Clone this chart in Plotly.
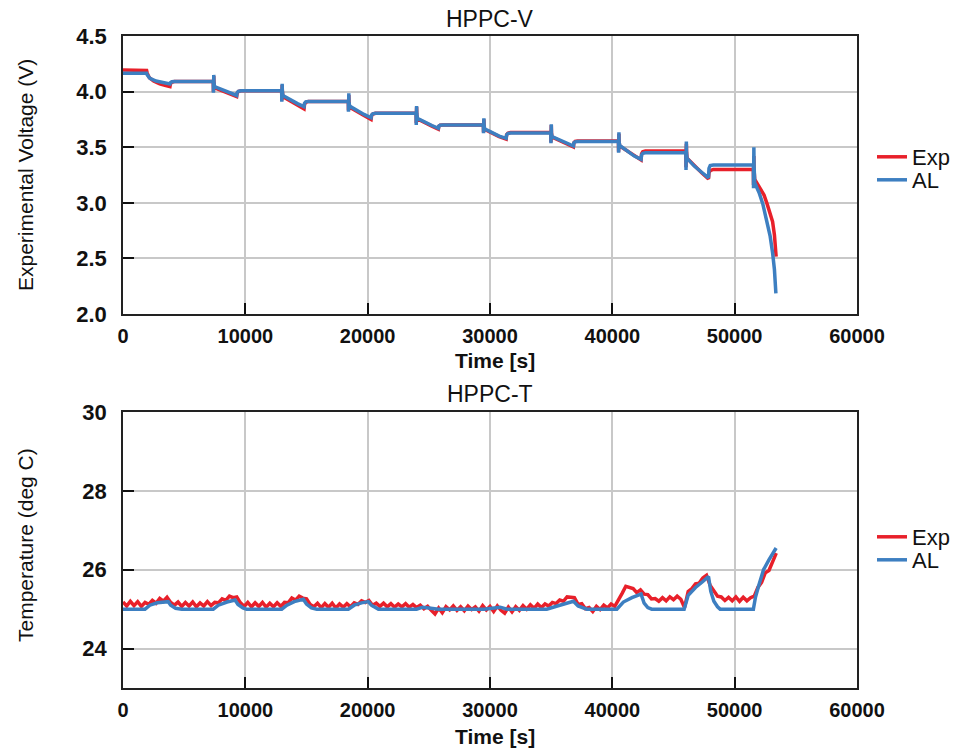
import plotly.graph_objects as go

# ---------------- Voltage data (HPPC-V) ----------------
exp_v_t = [0, 1930, 1980, 2150, 2500, 3000, 3500, 3840, 3880, 3980, 4200,
           7380, 7392, 7405, 7420, 7435, 7480, 8000, 8700, 9290, 9330, 9430, 9650,
           12970, 12982, 12995, 13010, 13025, 13070, 13600, 14200, 14800, 14840, 14940, 15150,
           18420, 18432, 18445, 18460, 18475, 18520, 19100, 19700, 20280, 20320, 20420, 20630,
           23960, 23972, 23985, 24000, 24015, 24060, 24650, 25250, 25780, 25820, 25920, 26130,
           29460, 29472, 29485, 29500, 29515, 29560, 30150, 30750, 31320, 31360, 31460, 31670,
           34970, 34982, 34995, 35010, 35025, 35070, 35650, 36250, 36820, 36860, 36960, 37170,
           40500, 40512, 40525, 40540, 40555, 40600, 41200, 41800, 42350, 42390, 42490, 42700,
           46010, 46022, 46035, 46050, 46065, 46110, 46700, 47300, 47860, 47900, 48000, 48250,
           51530, 51542, 51555, 51570, 51585, 51640, 52000, 52400, 52650, 52900, 53100, 53250, 53390]
exp_v = [4.195, 4.19, 4.165, 4.125, 4.095, 4.07, 4.055, 4.045, 4.07, 4.084, 4.09,
         4.09, 4.00, 4.03, 4.14, 4.09, 4.035, 4.01, 3.98, 3.955, 3.985, 4.0, 4.008,
         4.008, 3.92, 3.95, 4.06, 4.005, 3.955, 3.92, 3.88, 3.845, 3.885, 3.903, 3.912,
         3.912, 3.83, 3.855, 3.97, 3.91, 3.86, 3.82, 3.785, 3.75, 3.782, 3.798, 3.805,
         3.805, 3.715, 3.74, 3.86, 3.80, 3.755, 3.72, 3.69, 3.662, 3.688, 3.697, 3.70,
         3.70, 3.635, 3.655, 3.75, 3.70, 3.66, 3.625, 3.595, 3.572, 3.612, 3.625, 3.632,
         3.632, 3.545, 3.57, 3.70, 3.63, 3.59, 3.56, 3.53, 3.502, 3.54, 3.552, 3.556,
         3.556, 3.46, 3.49, 3.62, 3.555, 3.51, 3.465, 3.42, 3.385, 3.44, 3.46, 3.466,
         3.466, 3.32, 3.36, 3.53, 3.465, 3.40, 3.33, 3.27, 3.215, 3.27, 3.29, 3.30,
         3.30, 3.16, 3.20, 3.42, 3.30, 3.21, 3.15, 3.07, 2.99, 2.91, 2.83, 2.71, 2.515]

al_v_t = [0, 1930, 1980, 2200, 2700, 3300, 3840, 3880, 4000, 4200,
          7380, 7392, 7405, 7420, 7435, 7480, 8200, 8800, 9290, 9330, 9430, 9650,
          12970, 12982, 12995, 13010, 13025, 13070, 13700, 14300, 14800, 14840, 14940, 15150,
          18420, 18432, 18445, 18460, 18475, 18520, 19100, 19700, 20280, 20320, 20420, 20630,
          23960, 23972, 23985, 24000, 24015, 24060, 24650, 25250, 25780, 25820, 25920, 26130,
          29460, 29472, 29485, 29500, 29515, 29560, 30150, 30750, 31320, 31360, 31460, 31670,
          34970, 34982, 34995, 35010, 35025, 35070, 35650, 36250, 36820, 36860, 36960, 37170,
          40500, 40512, 40525, 40540, 40555, 40600, 41200, 41800, 42350, 42390, 42490, 42700,
          46010, 46022, 46035, 46050, 46065, 46110, 46700, 47300, 47860, 47900, 48000, 48250,
          51530, 51542, 51555, 51570, 51585, 51640, 52000, 52300, 52600, 52900, 53100, 53250, 53370]
al_v = [4.165, 4.165, 4.15, 4.12, 4.095, 4.08, 4.068, 4.08, 4.088, 4.09,
        4.09, 3.99, 4.03, 4.15, 4.09, 4.045, 4.01, 3.985, 3.965, 3.99, 4.003, 4.008,
        4.008, 3.91, 3.95, 4.07, 4.008, 3.965, 3.925, 3.89, 3.865, 3.895, 3.908, 3.912,
        3.912, 3.82, 3.855, 3.985, 3.912, 3.87, 3.83, 3.795, 3.765, 3.79, 3.80, 3.805,
        3.805, 3.70, 3.74, 3.87, 3.805, 3.76, 3.725, 3.695, 3.67, 3.69, 3.698, 3.70,
        3.70, 3.625, 3.655, 3.76, 3.70, 3.665, 3.63, 3.60, 3.58, 3.612, 3.622, 3.628,
        3.628, 3.535, 3.57, 3.706, 3.628, 3.595, 3.565, 3.535, 3.51, 3.54, 3.548, 3.552,
        3.552, 3.45, 3.49, 3.635, 3.552, 3.515, 3.465, 3.42, 3.39, 3.43, 3.445, 3.45,
        3.45, 3.295, 3.34, 3.55, 3.45, 3.40, 3.33, 3.275, 3.225, 3.31, 3.335, 3.34,
        3.34, 3.13, 3.20, 3.50, 3.34, 3.18, 3.09, 2.99, 2.86, 2.70, 2.55, 2.40, 2.186]

# ---------------- Temperature data (HPPC-T) ----------------
exp_T_t = [0, 300, 600, 900, 1200, 1500, 1800, 2100, 2400, 2700,
           3000, 3300, 3600, 3900, 4200, 4500, 4800, 5100, 5400, 5700,
           6000, 6300, 6600, 6900, 7200, 7500, 7800, 8100, 8400, 8700,
           9000, 9300, 9600, 9900, 10200, 10500, 10800, 11100, 11400, 11700,
           12000, 12300, 12600, 12900, 13200, 13500, 13800, 14100, 14400, 14700,
           15000, 15300, 15600, 15900, 16200, 16500, 16800, 17100, 17400, 17700,
           18000, 18300, 18600, 18900, 19200, 19500, 19800, 20100, 20400, 20700,
           21000, 21300, 21600, 21900, 22200, 22500, 22800, 23100, 23400, 23700,
           24000, 24300, 24600, 24900, 25200, 25500, 25800, 26100, 26400, 26700,
           27000, 27300, 27600, 27900, 28200, 28500, 28800, 29100, 29400, 29700,
           30000, 30300, 30600, 30900, 31200, 31500, 31800, 32100, 32400, 32700,
           33000, 33300, 33600, 33900, 34200, 34500, 34800, 35100, 35400, 35700,
           36000, 36300, 36600, 36900, 37200, 37500, 37800, 38100, 38400, 38700,
           39000, 39300, 39600, 39900, 40200, 40500, 40800, 41100, 41400, 41700,
           42000, 42300, 42600, 42900, 43200, 43500, 43800, 44100, 44400, 44700,
           45000, 45300, 45600, 45900, 46200, 46500, 46800, 47100, 47400, 47700,
           48000, 48300, 48600, 48900, 49200, 49500, 49800, 50100, 50400, 50700,
           51000, 51300, 51600, 51900, 52200, 52500, 52800, 53100, 53400]
exp_T = [25.18, 25.08, 25.20, 25.09, 25.19, 25.07, 25.17, 25.12, 25.22, 25.15,
         25.27, 25.20, 25.30, 25.17, 25.10, 25.18, 25.07, 25.17, 25.08, 25.18,
         25.06, 25.16, 25.08, 25.19, 25.09, 25.17, 25.16, 25.26, 25.22, 25.33,
         25.29, 25.31, 25.16, 25.07, 25.17, 25.06, 25.16, 25.07, 25.17, 25.05,
         25.15, 25.06, 25.16, 25.07, 25.17, 25.16, 25.28, 25.23, 25.33, 25.28,
         25.26, 25.12, 25.06, 25.15, 25.04, 25.14, 25.05, 25.15, 25.03, 25.13,
         25.05, 25.14, 25.06, 25.16, 25.12, 25.21, 25.17, 25.22, 25.10, 25.15,
         25.07, 25.15, 25.06, 25.14, 25.05, 25.13, 25.06, 25.14, 25.05, 25.12,
         25.04, 25.10, 25.01, 25.07, 24.97, 24.88, 25.03, 24.91, 25.06, 24.98,
         25.08, 24.97, 25.06, 24.96, 25.08, 24.99, 25.06, 24.95, 25.09, 24.98,
         25.07, 24.94, 25.08, 24.97, 24.90, 25.05, 24.93, 25.06, 24.97, 25.09,
         25.00, 25.11, 25.02, 25.13, 25.04, 25.13, 25.08, 25.17, 25.14, 25.23,
         25.20, 25.31, 25.30, 25.29, 25.12, 25.14, 25.01, 25.04, 24.94, 25.07,
         24.99, 25.10, 25.03, 25.13, 25.07, 25.22, 25.40, 25.58, 25.54, 25.52,
         25.42, 25.49, 25.38, 25.37, 25.26, 25.27, 25.20, 25.29, 25.21, 25.31,
         25.24, 25.33, 25.25, 25.04, 25.45, 25.52, 25.64, 25.66, 25.79, 25.86,
         25.60, 25.45, 25.33, 25.31, 25.22, 25.30, 25.21, 25.31, 25.20, 25.30,
         25.21, 25.29, 25.33, 25.55, 25.68, 25.92, 25.98, 26.20, 26.42]

al_T_t = [0, 1800, 2200, 2800, 3700, 3900, 4300, 4800,
          7380, 7800, 8500, 9160, 9400, 9800, 10100,
          12975, 13400, 14000, 14740, 15000, 15400, 15840,
          18420, 18900, 19500, 20060, 20300, 20880,
          24000, 24500, 25000, 25800, 29500, 30000, 30830, 31400,
          34640, 35500, 36200, 36820, 37200, 37910,
          40370, 40900, 41600, 42350, 42600, 42900, 43220,
          45870, 46200, 46800, 47400, 47860, 48050, 48300, 48600, 48810,
          51530, 51700, 51950, 52360, 52800, 53390]
al_T = [25.0, 25.0, 25.1, 25.16, 25.19, 25.1, 25.02, 25.0,
        25.0, 25.1, 25.18, 25.23, 25.12, 25.03, 25.0,
        25.0, 25.1, 25.19, 25.25, 25.13, 25.03, 25.0,
        25.0, 25.1, 25.16, 25.19, 25.1, 25.0,
        25.0, 25.05, 25.03, 25.0, 25.0, 25.02, 25.05, 25.0,
        25.0, 25.08, 25.15, 25.2, 25.08, 25.0,
        25.0, 25.18, 25.29, 25.38, 25.15, 25.04, 25.0,
        25.0, 25.35, 25.55, 25.7, 25.83, 25.45, 25.2, 25.06, 25.0,
        25.0, 25.3, 25.58, 26.0, 26.25, 26.55]

x_ticks = [0, 10000, 20000, 30000, 40000, 50000, 60000]
v_ticks = [2.0, 2.5, 3.0, 3.5, 4.0, 4.5]
t_ticks = [24, 26, 28, 30]

RED = "#e8202a"
BLUE = "#3d7fc1"
FONT = "Liberation Sans, Arial, sans-serif"
LW = 3.5

fig = go.Figure()
fig.add_trace(go.Scatter(x=exp_v_t, y=exp_v, mode="lines", name="Exp",
                         line=dict(color=RED, width=LW), xaxis="x", yaxis="y", legend="legend"))
fig.add_trace(go.Scatter(x=al_v_t, y=al_v, mode="lines", name="AL",
                         line=dict(color=BLUE, width=LW), xaxis="x", yaxis="y", legend="legend2"))
fig.add_trace(go.Scatter(x=exp_T_t, y=exp_T, mode="lines", name="Exp",
                         line=dict(color=RED, width=LW), xaxis="x2", yaxis="y2", legend="legend3"))
fig.add_trace(go.Scatter(x=al_T_t, y=al_T, mode="lines", name="AL",
                         line=dict(color=BLUE, width=LW), xaxis="x2", yaxis="y2", legend="legend4"))

ML, MR, MT, MB = 123, 109, 36, 62
W, H = 966, 750
PH = H - MT - MB
PW = W - ML - MR


def py(p):
    return (H - MB - p) / PH


def px(p):
    return (p - ML) / PW


axis_common = dict(showgrid=True, gridcolor="#c8c8c8", gridwidth=1.5,
                   ticks="inside", ticklen=11, tickwidth=1.5, tickcolor="#111",
                   showline=True, mirror=True, linecolor="#222", linewidth=1.5,
                   zeroline=False)
xtickfont = dict(family=FONT, size=20, color="#111", weight="bold")
ytickfont = dict(family=FONT, size=22, color="#111", weight="bold")

leg_font = dict(family=FONT, size=22, color="#111")


def leg(ypix):
    return dict(x=px(872), y=py(ypix), xanchor="left", yanchor="middle",
                font=leg_font, bgcolor="rgba(0,0,0,0)")


fig.update_layout(
    width=W, height=H,
    margin=dict(l=ML, r=MR, t=MT, b=MB, autoexpand=False),
    paper_bgcolor="white", plot_bgcolor="white",
    xaxis=dict(domain=[0, 1], anchor="y", range=[0, 60000], tickvals=x_ticks,
               ticktext=[str(v) for v in x_ticks], tickfont=xtickfont,
               ticklabelstandoff=3, **axis_common),
    yaxis=dict(domain=[py(314), 1], anchor="x", range=[2.0, 4.5], tickvals=v_ticks,
               ticktext=["%.1f" % v for v in v_ticks], tickfont=ytickfont,
               ticklabelstandoff=10, **axis_common),
    xaxis2=dict(domain=[0, 1], anchor="y2", range=[0, 60000], tickvals=x_ticks,
                ticktext=[str(v) for v in x_ticks], tickfont=xtickfont,
                ticklabelstandoff=3, **axis_common),
    yaxis2=dict(domain=[0, py(412)], anchor="x2", range=[23, 30], tickvals=t_ticks,
                ticktext=[str(v) for v in t_ticks], tickfont=ytickfont,
                ticklabelstandoff=10, **axis_common),
    legend=leg(157),
    legend2=leg(180),
    legend3=leg(537),
    legend4=leg(560),
    showlegend=True,
)

ann_font = dict(family=FONT, size=23, color="#111")
bold_font = dict(family=FONT, size=21, color="#111")
ytitle_font = dict(family=FONT, size=21, color="#111")
annotations = [
    dict(text="HPPC-V", x=px(490), y=py(19), xref="paper", yref="paper",
         showarrow=False, xanchor="center", yanchor="middle", font=ann_font),
    dict(text="HPPC-T", x=px(490), y=py(394), xref="paper", yref="paper",
         showarrow=False, xanchor="center", yanchor="middle", font=ann_font),
    dict(text="<b>Time [s]</b>", x=px(495), y=py(360), xref="paper", yref="paper",
         showarrow=False, xanchor="center", yanchor="middle", font=bold_font),
    dict(text="<b>Time [s]</b>", x=px(495), y=py(736), xref="paper", yref="paper",
         showarrow=False, xanchor="center", yanchor="middle", font=bold_font),
    dict(text="Experimental Voltage (V)", x=px(25), y=py(175), xref="paper", yref="paper",
         showarrow=False, xanchor="center", yanchor="middle", textangle=-90, font=ytitle_font),
    dict(text="Temperature (deg C)", x=px(25), y=py(545), xref="paper", yref="paper",
         showarrow=False, xanchor="center", yanchor="middle", textangle=-90, font=ytitle_font),
]
fig.update_layout(annotations=annotations)

fig.write_html("out.html")
